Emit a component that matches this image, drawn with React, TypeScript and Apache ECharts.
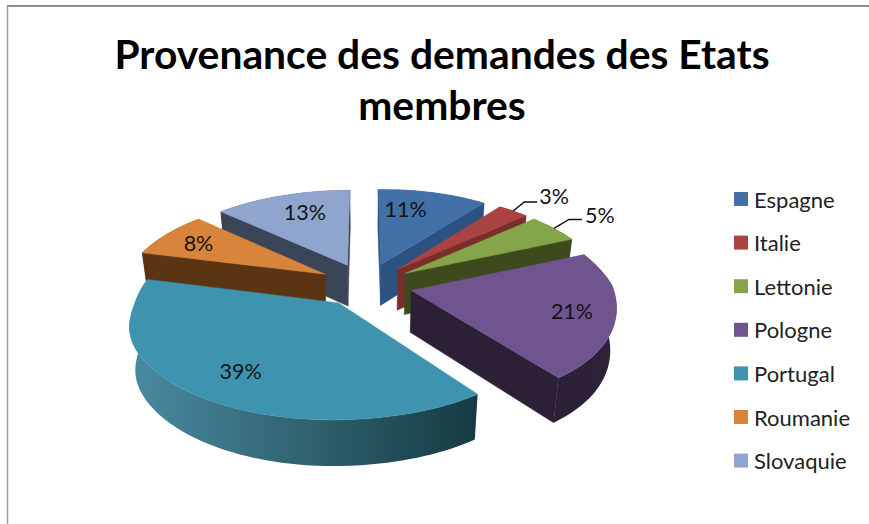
import React, { useEffect, useRef } from "react";
import * as echarts from "echarts";

const categories = ["Espagne", "Italie", "Lettonie", "Pologne", "Portugal", "Roumanie", "Slovaquie"];
const shares = [11, 3, 5, 21, 39, 8, 13];
const topColors = ["#4470A8", "#A94442", "#85A54A", "#70548F", "#3E94AF", "#D9843B", "#8FA5CE"];
const sideColors = ["#2C5282", "#7A2E2C", "#3C4A1E", "#2C2036", "#2B6070", "#5A3413", "#3A4557"];
const rimStops = [
  ["#2C5282", "#2C5282"], ["#7A2E2C", "#7A2E2C"], ["#3C4A1E", "#3C4A1E"], ["#2C2036", "#2E2238"],
  ["#4A8BA0", "#163A42"], ["#5A3413", "#5A3413"], ["#3A4557", "#3A4557"],
];
const paintOrder = [2, 3, 4, 6, 7, 5, 1];
// pixel nudge from the projected slice centre to the label centre
const labelNudges: ([number, number] | null)[] = [[-11, -7], null, null, [30, 3], [-12, 10], [-21, -5], [2, -6]];
// leader-line slices: elbow and text offset from the outer-edge anchor
const leaders: ([number, number, number, number, number] | null)[] = [
  null, [11, -9, 24, 41, -15], [15, -9, 28, 46, -13], null, null, null, null,
];

const FONT = "Lato";
const CX = 365.6, CY = 284.4, RX = 201, RY = 92.2, K = 0.157, EXPLODE = 0.235, DEPTH = 41.6, SHRINK = 0.975;
const total = shares.reduce((a, b) => a + b, 0);

function widthAdjust(u: number, v: number) {
  if (u > 0) {
    if (v > 0) return 1 - 0.05 * v;
    const d = -v;
    return 1 - 0.05 * d + 0.08 * d * d;
  }
  const t = (v + 0.2) / 0.25;
  return 1 - 0.017 * Math.exp(-t * t);
}
function project(u: number, v: number) {
  const w = 1 + K * v;
  const lift = Math.max(0, u) * Math.min(1, Math.max(0, v) * 3) * 3;
  return { x: CX + (RX * widthAdjust(u, v) * u) / w, y: CY - (RY * v) / w - lift, w };
}
function bottom(p: { x: number; y: number; w: number }): number[] {
  return [CX + (p.x - CX) * SHRINK, p.y + DEPTH * Math.pow(p.w, -0.5)];
}
function sliceAngles(i: number) {
  const before = shares.slice(0, i).reduce((a, b) => a + b, 0);
  const a0 = (before / total) * Math.PI * 2;
  const a1 = ((before + shares[i]) / total) * Math.PI * 2;
  return { a0, a1, mid: (a0 + a1) / 2 };
}
function point(i: number, theta: number, r: number) {
  const { mid } = sliceAngles(i);
  return project(EXPLODE * Math.sin(mid) + r * Math.sin(theta), EXPLODE * Math.cos(mid) + r * Math.cos(theta));
}

function renderSlice(params: any, api: any) {
  const i = params.seriesIndex;
  const share = api.value(0);
  const { a0, mid } = sliceAngles(i);
  const a1 = a0 + (share / total) * Math.PI * 2;
  const steps = Math.max(8, Math.round(share * 2));
  const arc: any[] = [];
  for (let s = 0; s <= steps; s++) arc.push(point(i, a0 + ((a1 - a0) * s) / steps, 1));
  const apex = point(i, 0, 0);
  const centre = point(i, mid, 0.9);
  const xy = (p: any) => [p.x, p.y];
  // a radial wall shows only if moving down from its top edge leaves the slice's top face
  const wall = (edge: any) => {
    const ex = edge.x - apex.x, ey = edge.y - apex.y;
    const inner = ex * (centre.y - apex.y) - ey * (centre.x - apex.x);
    const down = ex;
    if (inner * down > 0) return null;
    return {
      type: "polygon",
      shape: { points: [xy(apex), xy(edge), bottom(edge), bottom(apex)] },
      style: { fill: sideColors[i], stroke: sideColors[i], lineWidth: 0.5 },
    };
  };
  const rim = {
    type: "polygon",
    shape: { points: [...arc.map(xy), ...arc.slice().reverse().map(bottom)] },
    style: {
      fill: {
        type: "linear", x: 0, y: 0, x2: 1, y2: 0,
        colorStops: [
          { offset: 0, color: rimStops[i][0] },
          { offset: 1, color: rimStops[i][1] },
        ],
      },
    },
  };
  const children: any[] = [
    rim,
    wall(arc[0]),
    wall(arc[arc.length - 1]),
    {
      type: "polygon",
      shape: { points: [xy(apex), ...arc.map(xy)] },
      style: { fill: topColors[i], stroke: topColors[i], lineWidth: 0.5 },
    },
  ].filter(Boolean);
  const text = `${share}%`;
  const textStyle = { text, fill: "#141414", font: `21.5px ${FONT}`, align: "center", verticalAlign: "middle" };
  const nudge = labelNudges[i];
  if (nudge) {
    const c = point(i, mid, 0.65);
    children.push({ type: "text", z2: 10, style: { ...textStyle, x: c.x + nudge[0], y: c.y + nudge[1] } });
  }
  const lead = leaders[i];
  if (lead) {
    const e = point(i, mid, 1);
    const [ex, ey, hx, tx, ty] = lead;
    children.push({
      type: "polyline",
      z2: 10,
      shape: { points: [[e.x, e.y], [e.x + ex, e.y + ey], [e.x + hx, e.y + ey]] },
      style: { stroke: "#111", lineWidth: 1.5, fill: "none" },
    });
    children.push({ type: "text", z2: 10, style: { ...textStyle, x: e.x + tx, y: e.y + ty } });
  }
  return { type: "group", children };
}

export default function App() {
  const ref = useRef<HTMLDivElement>(null);
  useEffect(() => {
    const chart = echarts.init(ref.current!, null, { renderer: "svg" });
    chart.setOption({
      animation: false,
      backgroundColor: "#fff",
      title: {
        text: "Provenance des demandes des Etats\nmembres",
        left: 437,
        top: 23,
        textAlign: "center",
        textStyle: { fontFamily: FONT, fontWeight: "bold", fontSize: 40.8, lineHeight: 51, color: "#000" },
      },
      legend: {
        orient: "vertical",
        left: 729,
        top: 182,
        itemWidth: 14,
        itemHeight: 14,
        itemGap: 19.6,
        selectedMode: false,
        icon: "rect",
        textStyle: { fontFamily: FONT, fontSize: 22, color: "#222", padding: [0, 0, 0, 1], lineHeight: 24 },
        data: categories,
      },
      graphic: [
        { type: "line", shape: { x1: 7.5, y1: 6, x2: 7.5, y2: 524 }, style: { stroke: "#a0a0a0", lineWidth: 1.5 } },
        { type: "line", shape: { x1: 7, y1: 6, x2: 869, y2: 6 }, style: { stroke: "#8e8e8e", lineWidth: 2 } },
      ],
      series: categories.map((name, i) => ({
        type: "custom",
        name,
        coordinateSystem: "none",
        silent: true,
        z: paintOrder[i] + 1,
        itemStyle: { color: topColors[i] },
        data: [[shares[i]]],
        renderItem: renderSlice,
      })),
    });
    return () => chart.dispose();
  }, []);
  return <div ref={ref} style={{ position: "fixed", left: 0, top: 0, width: 869, height: 524 }} />;
}
